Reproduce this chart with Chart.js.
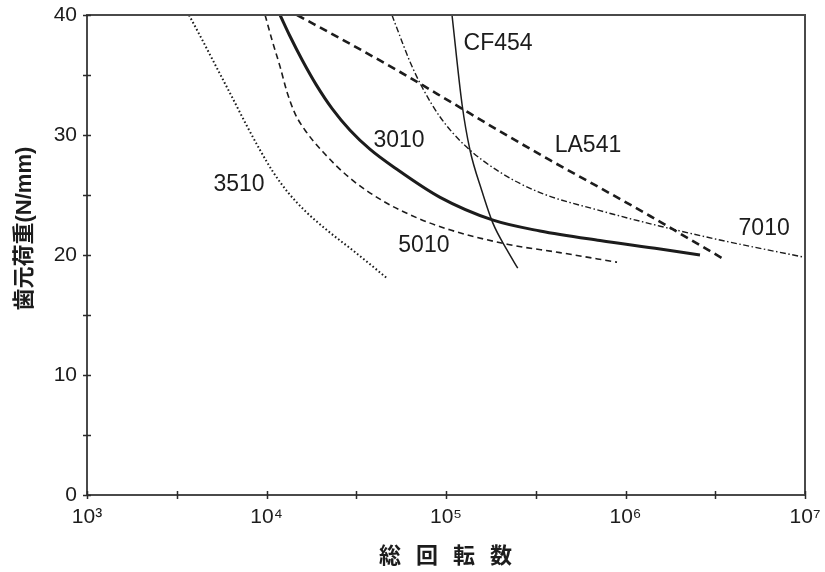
<!DOCTYPE html>
<html>
<head>
<meta charset="utf-8">
<script src="https://cdn.jsdelivr.net/npm/chart.js@4/dist/chart.umd.min.js"></script>
<style>
  html, body { margin: 0; padding: 0; background: #ffffff; }
  #wrap { width: 825px; height: 572px; }
</style>
</head>
<body>
<div id="wrap"><canvas id="chart" width="825" height="572"></canvas></div>
<script>
// Total revolutions (x) and tooth-root load in N/mm (y) for each gear material
const cycles3510 = [3700, 4430, 5370, 6510, 7780, 9200, 10900, 13200, 16600, 22000, 31100, 47500];
const load3510   = [40, 37.8, 35.4, 33.0, 30.75, 28.75, 26.9, 25.2, 23.6, 22.0, 20.25, 18.0];

const cycles5010 = [9820, 10740, 11900, 13000, 14400, 16400, 20600, 29200, 44600, 68900, 105000, 219000, 431000, 897000];
const load5010   = [40, 37.9, 35.7, 33.6, 31.8, 30.4, 28.6, 26.4, 24.5, 23.1, 22.1, 20.9, 20.2, 19.4];

const cycles3010 = [11900, 13500, 15800, 18900, 23200, 29200, 37800, 52000, 92700, 183000, 334000, 721000, 1560000, 2600000];
const load3010   = [40, 38.25, 36.25, 34.2, 32.2, 30.4, 28.8, 27.25, 24.8, 22.9, 22.0, 21.2, 20.5, 20.0];

const cyclesCF454 = [108000, 123000, 136000, 158000, 182000, 219000, 251000];
const loadCF454   = [40, 32.5, 28.75, 25.4, 22.7, 20.4, 18.9];

const cyclesLA541 = [14800, 29200, 55500, 105000, 200000, 380000, 721000, 1370000, 2290000, 3490000];
const loadLA541   = [40, 37.6, 35.25, 32.8, 30.3, 27.9, 25.6, 23.25, 21.3, 19.7];

const cycles7010 = [50000, 55500, 63000, 73500, 92700, 128000, 200000, 334000, 721000, 1560000, 3360000, 10000000];
const load7010   = [40, 38.2, 36.1, 34.0, 31.5, 29.1, 26.9, 25.2, 23.7, 22.4, 21.25, 19.8];

// Axis ticks
const xTickExponents = [3, 3.5, 4, 4.5, 5, 5.5, 6, 6.5, 7];
const xTickLabels    = ['10³', '', '10⁴', '', '10⁵', '', '10⁶', '', '10⁷'];
const yTickValues    = [0, 5, 10, 15, 20, 25, 30, 35, 40];
const yTickLabels    = ['0', '', '10', '', '20', '', '30', '', '40'];

// Axis titles
const xTitle = '総 回 転 数';
const yTitle = '歯元荷重(N/mm)';

// Curve names and where each name sits (revolutions, load)
const curveNames   = ['CF454', '3010', 'LA541', '3510', '5010', '7010'];
const nameCycles   = [195000, 54700, 618000, 7030, 75300, 5920000];
const nameLoads    = [37.6, 29.5, 29.1, 25.9, 20.8, 22.2];

const INK = '#1c1c1c';
const LATIN = '"Liberation Sans", Arial, sans-serif';
const CJK = '"Noto Sans CJK JP", "Noto Sans CJK SC", sans-serif';

function toPoints(xs, ys) {
  return xs.map((x, i) => ({ x: x, y: ys[i] }));
}

function curve(label, xs, ys, width, dash) {
  return {
    label: label,
    data: toPoints(xs, ys),
    borderColor: INK,
    borderWidth: width,
    borderDash: dash,
    borderCapStyle: 'butt',
    pointRadius: 0,
    pointHoverRadius: 0,
    fill: false,
    cubicInterpolationMode: 'monotone'
  };
}

// keep the plot box where the layout padding puts it
function noScalePadding(scale) {
  scale.paddingLeft = 0;
  scale.paddingRight = 0;
  scale.paddingTop = 0;
  scale.paddingBottom = 0;
}

// Frame, crossing tick marks, titles and curve names
const decorations = {
  id: 'decorations',
  afterDraw(chart) {
    const ctx = chart.ctx;
    const a = chart.chartArea;
    const xs = chart.scales.x;
    const ys = chart.scales.y;
    ctx.save();

    // frame
    ctx.strokeStyle = '#4a4a4a';
    ctx.lineWidth = 2;
    ctx.strokeRect(a.left, a.top, a.right - a.left, a.bottom - a.top);

    // tick marks crossing the bottom and left axes
    ctx.strokeStyle = '#2a2a2a';
    ctx.lineWidth = 1.5;
    ctx.beginPath();
    xTickExponents.forEach(e => {
      const px = Math.round(xs.getPixelForValue(Math.pow(10, e))) + 0.5;
      ctx.moveTo(px, a.bottom - 4);
      ctx.lineTo(px, a.bottom + 4);
    });
    yTickValues.forEach(v => {
      const py = Math.round(ys.getPixelForValue(v)) + 0.5;
      ctx.moveTo(a.left - 4, py);
      ctx.lineTo(a.left + 4, py);
    });
    ctx.stroke();

    // curve names
    ctx.fillStyle = INK;
    ctx.font = '23px ' + LATIN;
    ctx.textAlign = 'center';
    ctx.textBaseline = 'middle';
    curveNames.forEach((name, i) => {
      ctx.fillText(name, xs.getPixelForValue(nameCycles[i]), ys.getPixelForValue(nameLoads[i]));
    });

    // x axis title
    ctx.font = 'bold 22px ' + CJK;
    if ('letterSpacing' in ctx) ctx.letterSpacing = '5px';
    ctx.textAlign = 'center';
    ctx.textBaseline = 'middle';
    ctx.fillText(xTitle, (a.left + a.right) / 2 + 2, 555);
    if ('letterSpacing' in ctx) ctx.letterSpacing = '0px';

    // y axis title
    ctx.translate(25, a.top + (a.bottom - a.top) * 0.445);
    ctx.rotate(-Math.PI / 2);
    ctx.font = 'bold 22px ' + LATIN + ', ' + CJK;
    ctx.fillText(yTitle, 0, 0);

    ctx.restore();
  }
};

new Chart(document.getElementById('chart'), {
  type: 'line',
  data: {
    datasets: [
      curve('3510', cycles3510, load3510, 2, [1.6, 2.4]),
      curve('5010', cycles5010, load5010, 1.6, [6, 4]),
      curve('3010', cycles3010, load3010, 3, []),
      curve('CF454', cyclesCF454, loadCF454, 1.5, []),
      curve('LA541', cyclesLA541, loadLA541, 2.6, [8, 5]),
      curve('7010', cycles7010, load7010, 1.4, [6, 2.5, 1.5, 2.5])
    ]
  },
  options: {
    responsive: false,
    animation: false,
    events: [],
    layout: { padding: { left: 0, top: 15, right: 20, bottom: 0 } },
    plugins: {
      legend: { display: false },
      tooltip: { enabled: false },
      title: { display: false }
    },
    scales: {
      x: {
        type: 'logarithmic',
        min: 1000,
        max: 10000000,
        afterBuildTicks(scale) {
          scale.ticks = xTickExponents.map(e => ({ value: Math.pow(10, e) }));
        },
        afterFit(scale) { scale.height = 77; noScalePadding(scale); },
        grid: { display: false, drawTicks: false },
        border: { display: false },
        ticks: {
          autoSkip: false,
          maxRotation: 0,
          padding: 10,
          color: INK,
          font: { family: LATIN, size: 21 },
          callback: (value, index) => xTickLabels[index]
        }
      },
      y: {
        type: 'linear',
        min: 0,
        max: 40,
        afterBuildTicks(scale) {
          scale.ticks = yTickValues.map(v => ({ value: v }));
        },
        afterFit(scale) { scale.width = 87; noScalePadding(scale); },
        grid: { display: false, drawTicks: false },
        border: { display: false },
        ticks: {
          autoSkip: false,
          padding: 10,
          color: INK,
          font: { family: LATIN, size: 21 },
          callback: (value, index) => yTickLabels[index]
        }
      }
    }
  },
  plugins: [decorations]
});
</script>
</body>
</html>
